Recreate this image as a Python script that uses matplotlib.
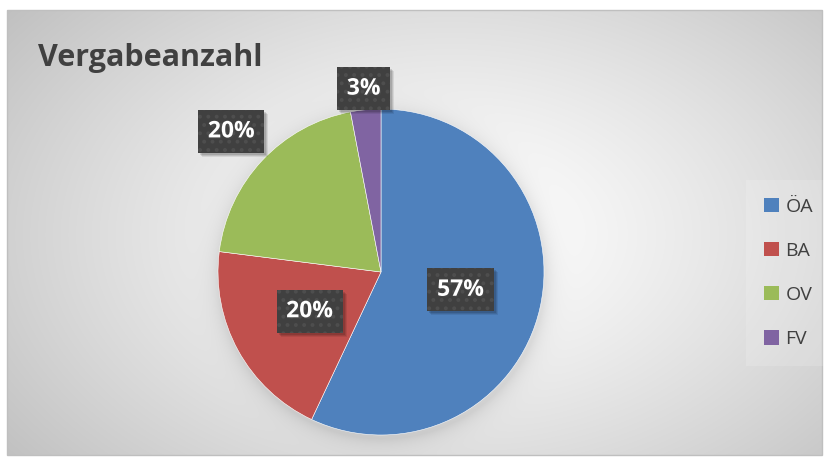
import numpy as np
import matplotlib.pyplot as plt
from matplotlib.patches import Rectangle
from matplotlib.transforms import IdentityTransform
import matplotlib.patheffects as pe

plt.rcParams['font.family'] = ['Open Sans', 'DejaVu Sans']
plt.rcParams['hatch.linewidth'] = 1.6

labels = ["ÖA", "BA", "OV", "FV"]
values = [57, 20, 20, 3]
colors = ["#4F81BD", "#C0504D", "#9BBB59", "#8064A2"]
label_r = [0.5, 0.5, 1.26, 1.13]

W, H = 830, 459
fig = plt.figure(figsize=(W / 100, H / 100), dpi=100)
fig.patch.set_facecolor("white")

# background: radial gradient + soft pie shadow
bg = fig.add_axes([0, 0, 1, 1])
bg.set_xlim(0, W)
bg.set_ylim(H, 0)
bg.axis("off")
x0, x1, y0, y1 = 7, 822, 10, 455
xx, yy = np.meshgrid(np.arange(x0, x1) + 0.5, np.arange(y0, y1) + 0.5)
d = np.sqrt(((xx - 450) / 460) ** 2 + ((yy - 235) / 300) ** 2)
val = 1 - 0.19 * d ** 1.3
rr = np.sqrt((xx - 382) ** 2 + (yy - 276) ** 2)
val -= 0.09 * np.exp(-np.clip(rr - 163, 0, None) / 9)
val = np.clip(val, 0, 1)
bg.imshow(np.dstack([val] * 3), extent=[x0, x1, y1, y0], aspect="auto", interpolation="bilinear")
bg.add_patch(Rectangle((x0, y0), x1 - x0, y1 - y0, fill=False, ec="#BFBFBF", lw=1))

bg.text(38, 58, "Vergabeanzahl", fontsize=22, fontweight="bold", color="#404040",
        va="center", ha="left")

# pie
cx, cy, R = 381, 272, 163
ax = fig.add_axes([(cx - R) / W, (H - cy - R) / H, 2 * R / W, 2 * R / H])
wedges, _ = ax.pie(values, colors=colors, startangle=90, counterclock=False,
                   wedgeprops=dict(edgecolor="white", linewidth=0.4))
ax.set_xlim(-1, 1)
ax.set_ylim(-1, 1)
ax.set_aspect("auto")
ax.axis("off")

total = sum(values)
boxes = []
for w, v, r in zip(wedges, values, label_r):
    ang = np.deg2rad((w.theta1 + w.theta2) / 2)
    t = ax.text(r * np.cos(ang), r * np.sin(ang), f"{round(100 * v / total)}%",
                ha="center", va="center", fontsize=16.5, fontweight="bold",
                color="white", zorder=5,
                bbox=dict(boxstyle="square,pad=0.42", fc="#404040", ec="#4E4E4E", lw=0, hatch=".."))
    t.set_path_effects([pe.SimplePatchShadow(offset=(1, -1), alpha=0.4), pe.Normal()])
    boxes.append(t)

leg = fig.legend(wedges, labels, loc="center left", bbox_to_anchor=(752 / W, 1 - 273 / H),
                 fontsize=14, frameon=True, handlelength=0.75, handleheight=0.75,
                 handletextpad=0.35, labelspacing=1.35, borderpad=0.62, borderaxespad=0,
                 labelcolor="#404040")
leg.get_frame().set_facecolor("white")
leg.get_frame().set_alpha(0.15)
leg.get_frame().set_edgecolor("none")
leg.get_frame().set_boxstyle("square")
for h in leg.legend_handles:
    h.set_edgecolor("none")

# soft drop shadow behind the label boxes
fig.canvas.draw()
for t in boxes:
    bb = t.get_bbox_patch().get_window_extent()
    for k, a in [(4, 0.08), (3, 0.1), (2, 0.12)]:
        ax.add_patch(Rectangle((bb.x0 + k, bb.y0 - k), bb.width, bb.height, fc="black",
                               ec="none", alpha=a, transform=IdentityTransform(), zorder=4,
                               clip_on=False))

fig.savefig("out.png", dpi=100)
